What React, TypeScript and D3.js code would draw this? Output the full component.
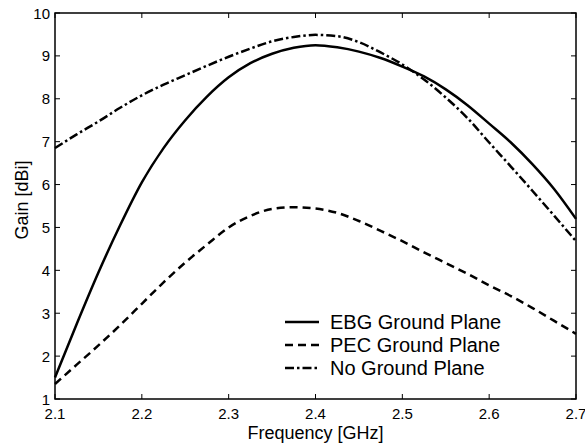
import React, { useEffect, useRef } from 'react';
import * as d3 from 'd3';

const freq = [2.1, 2.125, 2.15, 2.175, 2.2, 2.225, 2.25, 2.275, 2.3, 2.325, 2.35, 2.375, 2.4,
  2.425, 2.45, 2.475, 2.5, 2.525, 2.55, 2.575, 2.6, 2.625, 2.65, 2.675, 2.7];
const ebgGain = [1.5, 2.75, 3.95, 5.05, 6.05, 6.85, 7.5, 8.05, 8.5, 8.83, 9.05, 9.19, 9.25,
  9.2, 9.1, 8.95, 8.75, 8.52, 8.22, 7.85, 7.42, 6.98, 6.47, 5.89, 5.2];
const pecGain = [1.35, 1.8, 2.25, 2.72, 3.22, 3.72, 4.18, 4.6, 5.0, 5.27, 5.43, 5.47, 5.44,
  5.34, 5.15, 4.92, 4.68, 4.42, 4.17, 3.92, 3.65, 3.4, 3.12, 2.82, 2.52];
const noGpGain = [6.85, 7.17, 7.47, 7.79, 8.08, 8.33, 8.55, 8.77, 8.98, 9.17, 9.34, 9.44, 9.49,
  9.46, 9.32, 9.08, 8.8, 8.45, 8.03, 7.55, 6.98, 6.42, 5.85, 5.27, 4.68];
const seriesNames = ['EBG Ground Plane', 'PEC Ground Plane', 'No Ground Plane'];
const xTicks = [2.1, 2.2, 2.3, 2.4, 2.5, 2.6, 2.7];
const yTicks = [1, 2, 3, 4, 5, 6, 7, 8, 9, 10];

const App = () => {
  const ref = useRef(null);

  useEffect(() => {
    const width = 585;
    const height = 447;
    const m = { left: 55, right: 9, top: 13, bottom: 48 };
    const font = 'Liberation Sans, Arial, Helvetica, sans-serif';

    d3.select(ref.current).selectAll('*').remove();
    const svg = d3.select(ref.current)
      .append('svg')
      .attr('width', width)
      .attr('height', height)
      .style('position', 'absolute')
      .style('left', '0px')
      .style('top', '0px')
      .style('background', '#fff');

    const x = d3.scaleLinear().domain([2.1, 2.7]).range([m.left, width - m.right]);
    const y = d3.scaleLinear().domain([1, 10]).range([height - m.bottom, m.top]);

    const dashes = [null, '8,5', '9,3,2.5,3'];
    const data = [ebgGain, pecGain, noGpGain];

    const line = d3.line<number>()
      .x((d, i) => x(freq[i]))
      .y(d => y(d))
      .curve(d3.curveMonotoneX);

    const g = svg.append('g');
    data.forEach((vals, k) => {
      g.append('path')
        .attr('d', line(vals))
        .attr('fill', 'none')
        .attr('stroke', '#000')
        .attr('stroke-width', 2.5)
        .attr('stroke-dasharray', dashes[k]);
    });

    // box
    svg.append('rect')
      .attr('x', x(2.1))
      .attr('y', y(10))
      .attr('width', x(2.7) - x(2.1))
      .attr('height', y(1) - y(10))
      .attr('fill', 'none')
      .attr('stroke', '#000')
      .attr('stroke-width', 1.5);

    const tl = 5;
    xTicks.forEach(t => {
      svg.append('line').attr('x1', x(t)).attr('x2', x(t)).attr('y1', y(1)).attr('y2', y(1) - tl)
        .attr('stroke', '#000').attr('stroke-width', 1);
      svg.append('line').attr('x1', x(t)).attr('x2', x(t)).attr('y1', y(10)).attr('y2', y(10) + tl)
        .attr('stroke', '#000').attr('stroke-width', 1);
      svg.append('text')
        .attr('x', x(t))
        .attr('y', y(1) + 20)
        .attr('text-anchor', 'middle')
        .style('font-family', font)
        .style('font-size', '15px')
        .text(d3.format('.1f')(t));
    });
    yTicks.forEach(t => {
      svg.append('line').attr('x1', x(2.1)).attr('x2', x(2.1) + tl).attr('y1', y(t)).attr('y2', y(t))
        .attr('stroke', '#000').attr('stroke-width', 1);
      svg.append('line').attr('x1', x(2.7)).attr('x2', x(2.7) - tl).attr('y1', y(t)).attr('y2', y(t))
        .attr('stroke', '#000').attr('stroke-width', 1);
      svg.append('text')
        .attr('x', x(2.1) - 5)
        .attr('y', y(t) + 5.5)
        .attr('text-anchor', 'end')
        .style('font-family', font)
        .style('font-size', '15px')
        .text(t);
    });

    svg.append('text')
      .attr('x', (x(2.1) + x(2.7)) / 2)
      .attr('y', 439)
      .attr('text-anchor', 'middle')
      .style('font-family', font)
      .style('font-size', '18px')
      .text('Frequency [GHz]');

    svg.append('text')
      .attr('transform', `translate(28,${(y(1) + y(10)) / 2 - 6}) rotate(-90)`)
      .attr('text-anchor', 'middle')
      .style('font-family', font)
      .style('font-size', '18px')
      .text('Gain [dBi]');

    // legend
    seriesNames.forEach((name, k) => {
      const ly = 322 + k * 23;
      svg.append('line')
        .attr('x1', 285).attr('x2', 319).attr('y1', ly).attr('y2', ly)
        .attr('stroke', '#000').attr('stroke-width', 2.5)
        .attr('stroke-dasharray', dashes[k]);
      svg.append('text')
        .attr('x', 330)
        .attr('y', ly + 7)
        .style('font-family', font)
        .style('font-size', '20px')
        .text(name);
    });
  }, []);

  return <div ref={ref}></div>;
};

export default App;
